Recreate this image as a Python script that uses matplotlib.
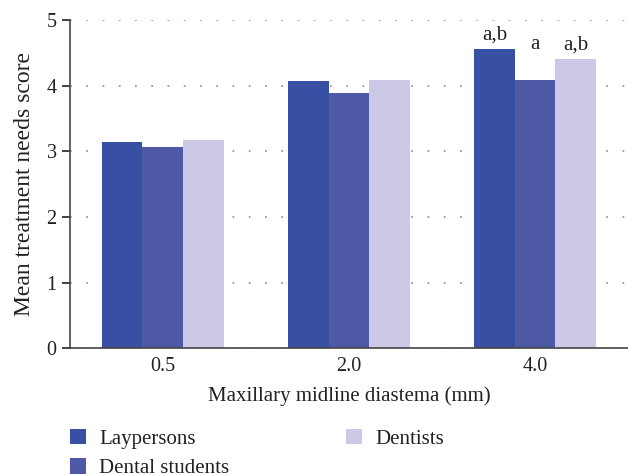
import matplotlib
matplotlib.use("Agg")
import matplotlib.pyplot as plt
import numpy as np

categories = ["0.5", "2.0", "4.0"]
series_names = ["Laypersons", "Dental students", "Dentists"]
laypersons = [3.14, 4.07, 4.56]
dental_students = [3.06, 3.89, 4.09]
dentists = [3.17, 4.09, 4.41]
annotations_4mm = ["a,b", "a", "a,b"]
colors = ["#3850a3", "#4f5aa7", "#cbc9e5"]

plt.rcParams['font.family'] = ['Liberation Serif', 'DejaVu Serif']

fig = plt.figure(figsize=(6.28, 4.75), dpi=100)
ax = fig.add_axes([0.111, 0.267, 0.889, 0.691])

x = np.arange(len(categories))
w = 0.218
values = [laypersons, dental_students, dentists]
last = [v[-1] for v in values]
for i, (name, vals, c) in enumerate(zip(series_names, values, colors)):
    ax.bar(x + (i - 1) * w, vals, width=w, color=c, label=name, zorder=2)
    ref = max(last[i:i + 2])
    ax.text(x[-1] + (i - 1) * w, ref + 0.14, annotations_4mm[i],
            ha='center', va='baseline', fontsize=15, color='#222222')

ax.set_xlim(-0.5, 2.5)
ax.set_ylim(0, 5)
ax.set_yticks([0, 1, 2, 3, 4, 5])
ax.set_xticks(x)
ax.set_xticklabels(categories)
ax.yaxis.grid(True, linestyle=(0, (1, 8)), color='#999999', linewidth=1.3, zorder=0)
ax.set_axisbelow(True)
for s in ['top', 'right']:
    ax.spines[s].set_visible(False)
ax.spines['left'].set_color('#444444')
ax.spines['bottom'].set_color('#444444')
ax.spines['left'].set_linewidth(1.2)
ax.spines['bottom'].set_linewidth(1.2)
ax.tick_params(axis='x', length=0, labelsize=14.5, pad=6, colors='#222222')
ax.tick_params(axis='y', length=6, width=1.2, labelsize=14.5, colors='#222222', direction='out')
ax.set_xlabel("Maxillary midline diastema (mm)", fontsize=15, labelpad=8, color='#222222')
ax.set_ylabel("Mean treatment needs score", fontsize=17, labelpad=8, color='#222222')

leg = fig.legend(loc='upper left', ncol=2, frameon=False,
                 prop={'family': ['Liberation Serif'], 'size': 15},
                 handlelength=0.77, handleheight=0.77, columnspacing=5.6,
                 labelspacing=0.45, handletextpad=0.63, borderaxespad=0, borderpad=0,
                 bbox_to_anchor=(0.1115, 0.0975), bbox_transform=fig.transFigure)
for t in leg.get_texts():
    t.set_color('#222222')

fig.savefig("out.png", dpi=100)
